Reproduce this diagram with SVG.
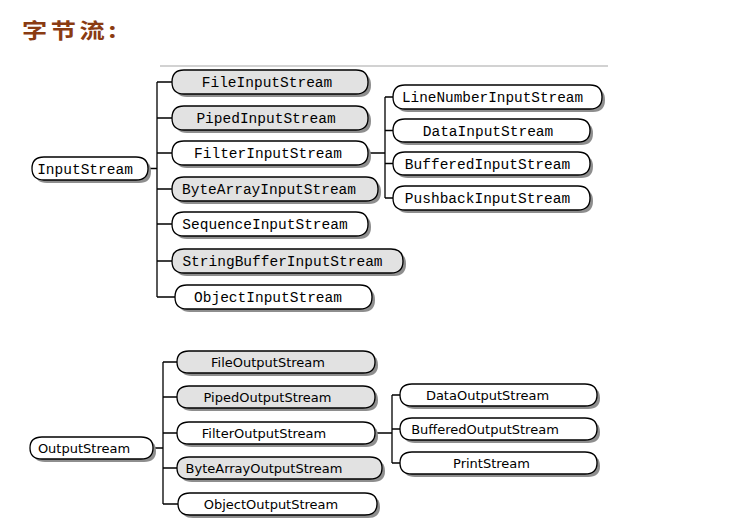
<svg xmlns="http://www.w3.org/2000/svg" width="750" height="519" viewBox="0 0 750 519">
<style>
.sh{fill:#8e8e8e;stroke:none}
.g{fill:#e2e2e2;stroke:#000;stroke-width:1.3}
.w{fill:#fff;stroke:#000;stroke-width:1.3}
.m{font-family:"Liberation Mono","DejaVu Sans Mono",monospace;font-size:14.5px;fill:#000;text-anchor:middle}
.p{font-family:"DejaVu Sans","Liberation Sans",sans-serif;font-size:13px;fill:#000;text-anchor:middle}
.c{fill:none;stroke:#000;stroke-width:1.3}
</style>
<rect width="750" height="519" fill="#fff"/>
<text transform="scale(1.2,1)" x="18.3" y="38" font-family="'Noto Sans CJK SC',sans-serif" font-weight="bold" font-size="21" letter-spacing="3" fill="#8a3b12">字节流:</text>
<line x1="160" y1="66" x2="608" y2="66" stroke="#d2d2d2" stroke-width="2"/>
<g id="connectors">
<path class="c" d="M148,168.5H157M157,82V297M157,82H172M157,118H172M157,153H172M157,189H172M157,224H172M157,261H172M157,297H175"/>
<path class="c" d="M368,153H385M385,97V198M385,97H393M385,130.5H393M385,163.5H393M385,198H393"/>
<path class="c" d="M153,448H163M163,362V504M163,362H177M163,397H177M163,433H177M163,468H177M163,504H178"/>
<path class="c" d="M375,433H392M392,395V463M392,395H400M392,429H400M392,463H400"/>
</g>
<g id="InputStream"><path class="sh" transform="translate(3,3)" d="M44,157H136Q148,157 148,168.5Q148,180 136,180H44Q32,180 32,168.5Q32,157 44,157Z"/><path class="w" d="M44,157H136Q148,157 148,168.5Q148,180 136,180H44Q32,180 32,168.5Q32,157 44,157Z"/><text class="m" x="85" y="173.5">InputStream</text></g>
<g id="FileInputStream"><path class="sh" transform="translate(3,3)" d="M184,70H356Q368,70 368,82Q368,94 356,94H184Q172,94 172,82Q172,70 184,70Z"/><path class="g" d="M184,70H356Q368,70 368,82Q368,94 356,94H184Q172,94 172,82Q172,70 184,70Z"/><text class="m" x="267" y="87">FileInputStream</text></g>
<g id="PipedInputStream"><path class="sh" transform="translate(3,3)" d="M184,106H356Q368,106 368,118Q368,130 356,130H184Q172,130 172,118Q172,106 184,106Z"/><path class="g" d="M184,106H356Q368,106 368,118Q368,130 356,130H184Q172,130 172,118Q172,106 184,106Z"/><text class="m" x="266" y="123">PipedInputStream</text></g>
<g id="FilterInputStream"><path class="sh" transform="translate(3,3)" d="M184,141H356Q368,141 368,153Q368,165 356,165H184Q172,165 172,153Q172,141 184,141Z"/><path class="w" d="M184,141H356Q368,141 368,153Q368,165 356,165H184Q172,165 172,153Q172,141 184,141Z"/><text class="m" x="268" y="158">FilterInputStream</text></g>
<g id="ByteArrayInputStream"><path class="sh" transform="translate(3,3)" d="M184,177H366Q378,177 378,189Q378,201 366,201H184Q172,201 172,189Q172,177 184,177Z"/><path class="g" d="M184,177H366Q378,177 378,189Q378,201 366,201H184Q172,201 172,189Q172,177 184,177Z"/><text class="m" x="269" y="194">ByteArrayInputStream</text></g>
<g id="SequenceInputStream"><path class="sh" transform="translate(3,3)" d="M184,212H356Q368,212 368,224Q368,236 356,236H184Q172,236 172,224Q172,212 184,212Z"/><path class="w" d="M184,212H356Q368,212 368,224Q368,236 356,236H184Q172,236 172,224Q172,212 184,212Z"/><text class="m" x="265" y="229">SequenceInputStream</text></g>
<g id="StringBufferInputStream"><path class="sh" transform="translate(3,3)" d="M184,249H391Q403,249 403,261Q403,273 391,273H184Q172,273 172,261Q172,249 184,249Z"/><path class="g" d="M184,249H391Q403,249 403,261Q403,273 391,273H184Q172,273 172,261Q172,249 184,249Z"/><text class="m" x="282.5" y="266">StringBufferInputStream</text></g>
<g id="ObjectInputStream"><path class="sh" transform="translate(3,3)" d="M187,285H360Q372,285 372,297Q372,309 360,309H187Q175,309 175,297Q175,285 187,285Z"/><path class="w" d="M187,285H360Q372,285 372,297Q372,309 360,309H187Q175,309 175,297Q175,285 187,285Z"/><text class="m" x="268" y="302">ObjectInputStream</text></g>
<g id="LineNumberInputStream"><path class="sh" transform="translate(3,3)" d="M405,85H590Q602,85 602,97Q602,109 590,109H405Q393,109 393,97Q393,85 405,85Z"/><path class="w" d="M405,85H590Q602,85 602,97Q602,109 590,109H405Q393,109 393,97Q393,85 405,85Z"/><text class="m" x="492.5" y="102" textLength="181" lengthAdjust="spacingAndGlyphs">LineNumberInputStream</text></g>
<g id="DataInputStream"><path class="sh" transform="translate(3,3)" d="M405,119H578Q590,119 590,130.5Q590,142 578,142H405Q393,142 393,130.5Q393,119 405,119Z"/><path class="w" d="M405,119H578Q590,119 590,130.5Q590,142 578,142H405Q393,142 393,130.5Q393,119 405,119Z"/><text class="m" x="488" y="135.5">DataInputStream</text></g>
<g id="BufferedInputStream"><path class="sh" transform="translate(3,3)" d="M405,152H578Q590,152 590,163.5Q590,175 578,175H405Q393,175 393,163.5Q393,152 405,152Z"/><path class="w" d="M405,152H578Q590,152 590,163.5Q590,175 578,175H405Q393,175 393,163.5Q393,152 405,152Z"/><text class="m" x="487.5" y="168.5">BufferedInputStream</text></g>
<g id="PushbackInputStream"><path class="sh" transform="translate(3,3)" d="M405,186H578Q590,186 590,198Q590,210 578,210H405Q393,210 393,198Q393,186 405,186Z"/><path class="w" d="M405,186H578Q590,186 590,198Q590,210 578,210H405Q393,210 393,198Q393,186 405,186Z"/><text class="m" x="487.5" y="203">PushbackInputStream</text></g>
<g id="OutputStream"><path class="sh" transform="translate(3,3)" d="M42,437H141Q153,437 153,448Q153,459 141,459H42Q30,459 30,448Q30,437 42,437Z"/><path class="w" d="M42,437H141Q153,437 153,448Q153,459 141,459H42Q30,459 30,448Q30,437 42,437Z"/><text class="p" x="84" y="452.5">OutputStream</text></g>
<g id="FileOutputStream"><path class="sh" transform="translate(3,3)" d="M189,351H363Q375,351 375,362Q375,373 363,373H189Q177,373 177,362Q177,351 189,351Z"/><path class="g" d="M189,351H363Q375,351 375,362Q375,373 363,373H189Q177,373 177,362Q177,351 189,351Z"/><text class="p" x="268" y="366.5">FileOutputStream</text></g>
<g id="PipedOutputStream"><path class="sh" transform="translate(3,3)" d="M189,386H363Q375,386 375,397Q375,408 363,408H189Q177,408 177,397Q177,386 189,386Z"/><path class="g" d="M189,386H363Q375,386 375,397Q375,408 363,408H189Q177,408 177,397Q177,386 189,386Z"/><text class="p" x="267.5" y="401.5">PipedOutputStream</text></g>
<g id="FilterOutputStream"><path class="sh" transform="translate(3,3)" d="M189,422H363Q375,422 375,433Q375,444 363,444H189Q177,444 177,433Q177,422 189,422Z"/><path class="w" d="M189,422H363Q375,422 375,433Q375,444 363,444H189Q177,444 177,433Q177,422 189,422Z"/><text class="p" x="264" y="437.5">FilterOutputStream</text></g>
<g id="ByteArrayOutputStream"><path class="sh" transform="translate(3,3)" d="M189,457H370Q382,457 382,468Q382,479 370,479H189Q177,479 177,468Q177,457 189,457Z"/><path class="g" d="M189,457H370Q382,457 382,468Q382,479 370,479H189Q177,479 177,468Q177,457 189,457Z"/><text class="p" x="264" y="472.5">ByteArrayOutputStream</text></g>
<g id="ObjectOutputStream"><path class="sh" transform="translate(3,3)" d="M190,493H365Q377,493 377,504Q377,515 365,515H190Q178,515 178,504Q178,493 190,493Z"/><path class="w" d="M190,493H365Q377,493 377,504Q377,515 365,515H190Q178,515 178,504Q178,493 190,493Z"/><text class="p" x="271" y="508.5">ObjectOutputStream</text></g>
<g id="DataOutputStream"><path class="sh" transform="translate(3,3)" d="M412,384H585Q597,384 597,395Q597,406 585,406H412Q400,406 400,395Q400,384 412,384Z"/><path class="w" d="M412,384H585Q597,384 597,395Q597,406 585,406H412Q400,406 400,395Q400,384 412,384Z"/><text class="p" x="487.5" y="399.5">DataOutputStream</text></g>
<g id="BufferedOutputStream"><path class="sh" transform="translate(3,3)" d="M412,418H585Q597,418 597,429Q597,440 585,440H412Q400,440 400,429Q400,418 412,418Z"/><path class="w" d="M412,418H585Q597,418 597,429Q597,440 585,440H412Q400,440 400,429Q400,418 412,418Z"/><text class="p" x="485" y="433.5">BufferedOutputStream</text></g>
<g id="PrintStream"><path class="sh" transform="translate(3,3)" d="M412,452H585Q597,452 597,463Q597,474 585,474H412Q400,474 400,463Q400,452 412,452Z"/><path class="w" d="M412,452H585Q597,452 597,463Q597,474 585,474H412Q400,474 400,463Q400,452 412,452Z"/><text class="p" x="491.5" y="467.5">PrintStream</text></g>
</svg>
